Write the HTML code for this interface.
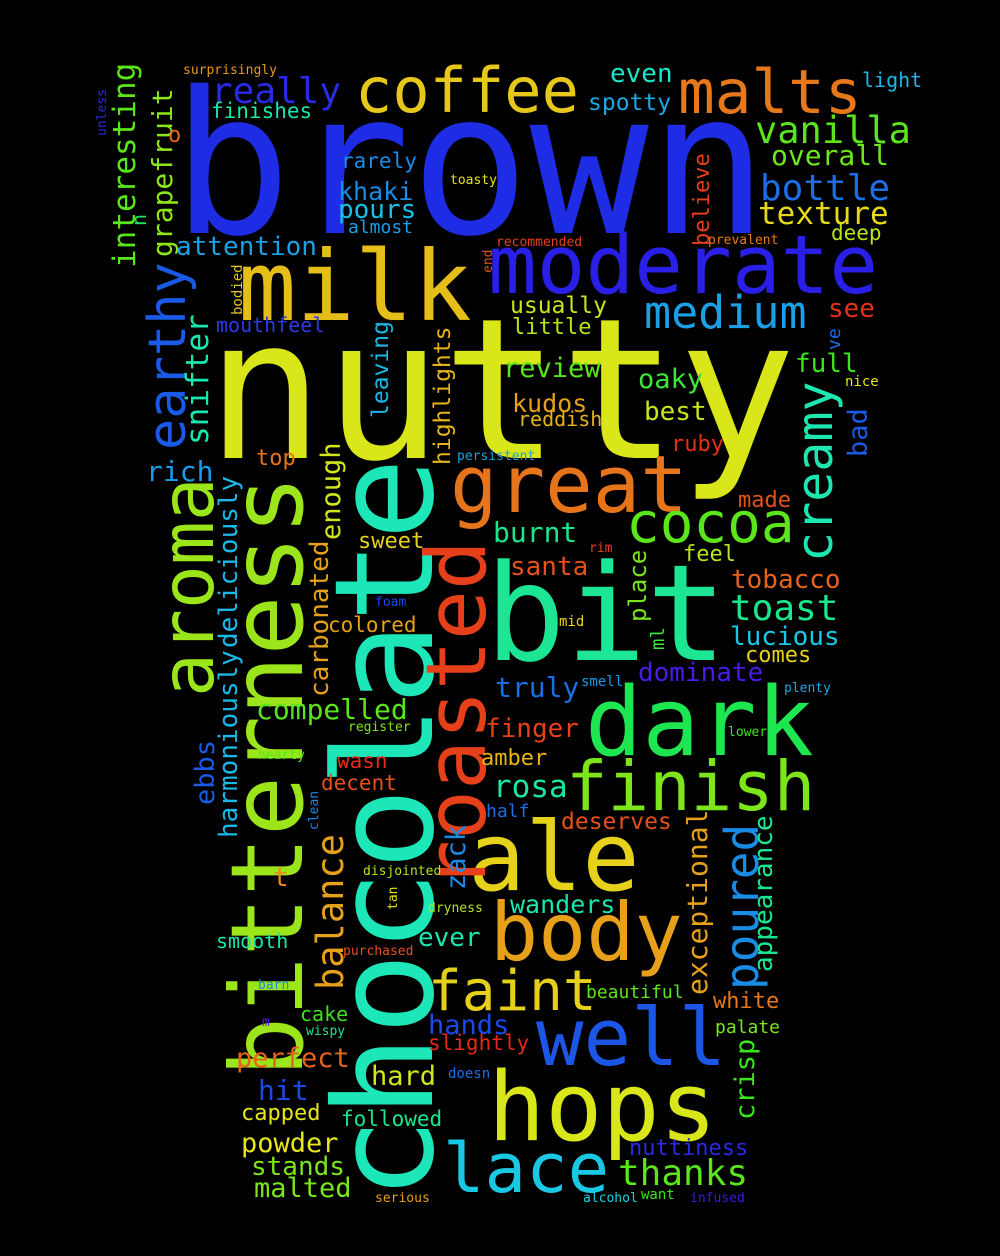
<!DOCTYPE html>
<html><head><meta charset="utf-8"><style>
html,body{margin:0;padding:0;background:#000;}
svg{display:block}
text{font-family:"DejaVu Sans Mono","Liberation Mono",monospace;}
</style></head><body>
<svg id="cloud" width="1000" height="1256" viewBox="0 0 1000 1256" xmlns="http://www.w3.org/2000/svg">
<rect width="1000" height="1256" fill="#000"/>
</svg>
<script>
// word, x, y (baseline), font size, colour; vertical words listed separately
const words = ["brown","nutty","chocolate","bitterness","bit","dark","finish","ale","body","hops","well","lace","great","cocoa","creamy","milk","moderate","medium","coffee","malts","roasted","aroma","earthy","faint","poured","balance","really","vanilla","overall","bottle","texture","deep","light","even","spotty","finishes","surprisingly","rarely","khaki","pours","almost","toasty","attention","recommended","prevalent","see","mouthfeel","usually","little","review","oaky","full","nice","kudos","reddish","best","ruby","persistent","rich","top","made","burnt","sweet","feel","rim","santa","tobacco","toast","foam","colored","mid","lucious","comes","dominate","truly","smell","plenty","compelled","register","finger","lower","hearty","amber","wasn","rosa","decent","half","deserves","t","disjointed","dryness","wanders","smooth","ever","purchased","barn","beautiful","white","cake","wispy","m","hands","palate","slightly","perfect","doesn","hard","hit","capped","followed","powder","nuttiness","stands","thanks","malted","serious","alcohol","want","infused","interesting","grapefruit","o","n","unless","snifter","harmoniously","deliciously","ebbs","bodied","leaving","highlights","end","enough","carbonated","clean","zack","tan","believe","ve","bad","place","ml","exceptional","appearance","crisp"];
const xs = [172,206,432,302,485,585,566,468,490,488,536,443,450,626,832,238,488,644,355,678,485,213,185,428,758,343,211,755,771,760,758,831,862,610,588,211,183,341,338,338,348,450,176,496,708,828,216,510,512,503,638,795,845,512,518,644,671,457,146,256,738,493,358,683,589,510,731,730,375,328,559,730,745,638,495,581,784,256,348,485,728,258,481,337,493,321,486,561,273,363,428,510,216,418,343,258,586,713,300,306,262,428,715,428,236,448,371,258,241,341,241,629,251,618,254,375,583,641,690,135,172,168,146,106,208,237,237,214,242,388,450,492,340,328,318,465,397,709,840,867,646,664,707,772,754];
const ys = [233,458,1200,1077,660,755,810,890,960,1140,1065,1192,512,542,562,320,293,328,112,113,890,697,450,1010,990,990,103,143,165,200,224,240,87,82,110,118,74,168,200,218,233,184,255,246,244,317,332,313,334,377,388,372,386,412,426,420,451,460,481,465,507,542,548,561,552,575,588,620,606,632,626,645,662,681,697,686,692,719,731,737,736,759,765,768,797,790,817,829,886,875,912,913,948,946,955,989,998,1008,1021,1035,1026,1034,1033,1050,1067,1078,1085,1100,1120,1126,1152,1155,1175,1185,1197,1202,1202,1199,1202,268,257,142,226,136,445,838,648,805,315,418,465,273,540,697,830,890,910,246,350,457,622,650,995,972,1120];
const sizes = [198,196,137,100,134,95,69,95,80,95,79,69,79,56,50,97,81,45,62,61,83,73,52,56,46,37,36,37,28,36,31,21,20,26,23,21,13,21,25,26,18,13,26,13,13,26,20,23,22,27,27,26,14,25,20,26,22,13,28,22,22,28,22,22,13,26,26,36,13,21,14,26,22,26,28,14,13,28,13,26,13,13,22,21,31,21,18,23,26,13,13,25,20,26,13,13,18,22,20,13,13,27,18,21,27,14,27,28,22,21,27,22,26,36,27,13,13,14,13,31,28,22,20,13,31,26,26,27,14,23,23,13,27,26,13,27,13,22,18,27,24,19,28,26,27];
const colors = ["#1e2ce6","#d9e61a","#1de6b8","#9be51a","#1ce694","#1de650","#7de61a","#e6d21a","#e6a01a","#d9e61a","#1c56e6","#1ac8e3","#e6741a","#5ae61a","#1de6b0","#e6be1a","#2a1fe6","#1aa0e6","#e6c81a","#e6781a","#e6401a","#9be61a","#1a5ae6","#e6cf1a","#1a8ce6","#e6a01a","#2a2ae6","#5ae61a","#6ee61a","#1a6ee6","#e6d81a","#b4e61a","#1ab8e6","#1ae6c8","#1aa8e6","#1ae6b0","#e69a1a","#1a8ce6","#1a8ce6","#1ac0e6","#1aa0e6","#e6e61a","#1aa0e6","#e6401a","#e67a1a","#e6301a","#2a3ae6","#c8e61a","#b4e61a","#5ae61a","#3ae63a","#3ae61a","#e6e61a","#e6a01a","#e6b41a","#c8e61a","#e6301a","#1aa0e6","#1a9ce6","#e6741a","#e6501a","#1ae68c","#e6d21a","#b4e61a","#e6401a","#e6501a","#e6641a","#1ae68c","#1a4ae6","#e6a01a","#e6d21a","#1ac8e6","#e6d21a","#4a1ae6","#1a6ee6","#1a9ce6","#1aa8e6","#5ae61a","#7de61a","#e6401a","#3ae61a","#5ae61a","#e6b41a","#e6281a","#1ae6a0","#e6501a","#1a6ee6","#e6501a","#e68c1a","#b4e61a","#b4e61a","#1ae6b0","#1ae6b0","#1ae6b0","#e6501a","#1a8ce6","#5ae61a","#e6781a","#3ae61a","#1ae68c","#5a1ae6","#1a4ae6","#7de61a","#e6281a","#e6641a","#1a6ee6","#d2e61a","#1a4ae6","#e6e61a","#1ae68c","#e6e61a","#2a2ae6","#7de61a","#5ae61a","#7de61a","#e6a01a","#1ad2e6","#3ae61a","#3a1ae6","#5ae61a","#8ee61a","#e6641a","#1ae664","#2a2ae6","#1ae6b0","#1ab8e6","#1ab8e6","#1a5ae6","#e6c81a","#1ab8e6","#e6b41a","#e6501a","#d2e61a","#e6a01a","#1a8ce6","#1a8ce6","#e6e61a","#e6401a","#1a6ee6","#1a5ae6","#7de61a","#3ae63a","#e6a01a","#1ae690","#3ae61a"];
const vertical = ["chocolate","bitterness","creamy","roasted","aroma","earthy","poured","balance","interesting","grapefruit","n","unless","snifter","harmoniously","deliciously","ebbs","bodied","leaving","highlights","end","enough","carbonated","clean","zack","tan","believe","ve","bad","place","ml","exceptional","appearance","crisp"];

const svg = document.getElementById('cloud');
for (let i = 0; i < words.length; i++) {
  const t = document.createElementNS('http://www.w3.org/2000/svg', 'text');
  t.setAttribute('x', xs[i]);
  t.setAttribute('y', ys[i]);
  t.setAttribute('font-size', sizes[i]);
  t.setAttribute('fill', colors[i]);
  if (vertical.indexOf(words[i]) >= 0) t.setAttribute('transform', 'rotate(-90 ' + xs[i] + ' ' + ys[i] + ')');
  t.textContent = words[i];
  
  
  svg.appendChild(t);
}
</script>
</body></html>
